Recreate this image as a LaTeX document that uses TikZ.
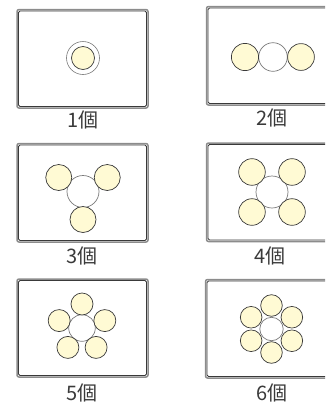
\documentclass[tikz,border=0pt]{standalone}
\usepackage{fontspec}
\newfontfamily\jp{Noto Sans CJK JP}
\definecolor{cream}{HTML}{FFFAD4}
\definecolor{ringgray}{HTML}{7A7A7A}
\definecolor{boxgray}{HTML}{8C8C8C}
\definecolor{dark}{HTML}{3A3A3A}
\tikzset{
  boxouter/.style={draw=boxgray, line width=1.5pt, rounded corners=2pt},
  boxinner/.style={draw=dark, line width=0.8pt, rounded corners=1.5pt},
  hub/.style={draw=ringgray, line width=0.7pt, fill=white},
  ball/.style={draw=dark, line width=0.7pt, fill=cream},
  lbl/.style={font=\jp\fontsize{20}{20}\selectfont, text=dark, inner sep=0pt, anchor=center}
}
\newcommand{\panelbox}[4]{%
  \draw[boxouter] (#1,#2) rectangle (#3,#4);
  \draw[boxinner] (#1+1.5,#2+1.5) rectangle (#3-1.5,#4-1.5);
}
\begin{document}
\begin{tikzpicture}[x=1pt,y=-1pt]
\useasboundingbox (0,0) rectangle (325,408);
\clip (0,0) rectangle (325,408);
% boxes
\panelbox{17}{9.5}{148}{108}
\panelbox{206.5}{6.5}{345}{105}
\panelbox{17}{143.5}{148}{242}
\panelbox{206.5}{143}{345}{241.5}
\panelbox{17}{279}{148}{377}
\panelbox{205.5}{279.5}{345}{378}
% panel 1
\draw[ringgray, line width=0.6pt, fill=white] (83,58) circle (16.5);
\draw[ball] (83,58) circle (11.5);
% panel 2
\draw[hub] (273,57) circle (14.3);
\draw[ball] (245,57) circle (13.6);
\draw[ball] (301,57) circle (13.4);
% panel 3
\draw[hub] (83,191.5) circle (16);
\foreach \a in {30,150,270}
  \draw[ball] ({83+28*cos(\a)},{191.5-28*sin(\a)}) circle (13);
% panel 4
\draw[hub] (272,192) circle (16);
\foreach \a in {45,135,225,315}
  \draw[ball] ({272+28.3*cos(\a)},{192-28.3*sin(\a)}) circle (13.3);
% panel 5
\draw[hub] (82,328) circle (13.3);
\foreach \a in {90,162,234,306,18}
  \draw[ball] ({82+24*cos(\a)},{328-24*sin(\a)}) circle (11);
% panel 6
\draw[hub] (271.5,329) circle (11.7);
\foreach \a in {90,150,210,270,330,30}
  \draw[ball] ({271.5+23.5*cos(\a)},{329-23.5*sin(\a)}) circle (10.8);
% labels
\node[lbl] (l1) at (83,119.5) {1個};
\node[lbl] (l2) at (272,118) {2個};
\node[lbl] (l3) at (82,255.5) {3個};
\node[lbl] (l4) at (270,256) {4個};
\node[lbl] (l5) at (82,393) {5個};
\node[lbl] (l6) at (272,393) {6個};
\end{tikzpicture}
\end{document}
